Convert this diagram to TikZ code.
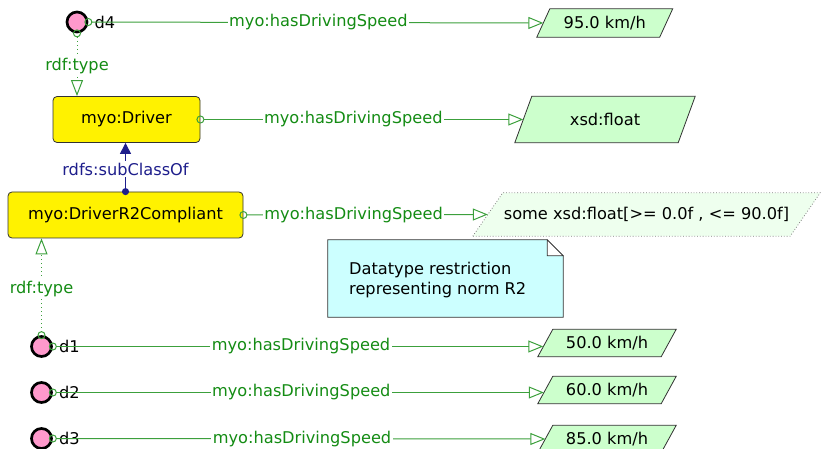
\documentclass[tikz,border=0pt]{standalone}
\usepackage{fontspec}
\setmainfont{DejaVu Sans}
\usetikzlibrary{arrows.meta,backgrounds}
\definecolor{lgreen}{RGB}{60,160,60}
\definecolor{tgreen}{RGB}{20,140,20}
\definecolor{navyc}{RGB}{30,30,140}
\definecolor{pinkf}{RGB}{255,153,204}
\definecolor{parf}{RGB}{204,255,204}
\definecolor{resf}{RGB}{238,255,238}
\definecolor{notef}{RGB}{204,255,255}
\definecolor{bord}{RGB}{50,50,50}
\newcommand\myparallelo[3]{%
  \path[#3] ([xshift=-#2]#1.south west) -- ([xshift=#2]#1.north west) -- ([xshift=#2]#1.north east) -- ([xshift=-#2]#1.south east) -- cycle;}
\begin{document}
\begin{tikzpicture}[x=1pt,y=-1pt, font=\fontsize{16.2}{20}\selectfont,
  ind/.style={circle, draw=black, line width=2.7pt, fill=pinkf, minimum size=20pt, inner sep=0pt},
  ilab/.style={anchor=west, inner sep=0pt},
  cls/.style={rectangle, rounded corners=4pt, draw=bord, line width=0.8pt, fill=yellow, inner sep=0pt},
  valbox/.style={rectangle, inner sep=0pt},
  prop/.style={draw=lgreen, line width=1pt, {Circle[open,length=8pt,width=8pt]}-{Triangle[open,length=15pt,width=12pt]}},
  typ/.style={draw=lgreen, color=lgreen, line width=1pt, dash pattern=on 1pt off 3pt, {Circle[open,length=8pt,width=8pt]}-{Triangle[open,length=16pt,width=12pt]}},
  sub/.style={draw=navyc, line width=1pt, {Circle[length=7pt,width=7pt]}-{Triangle[length=11pt,width=11pt]}},
  plab/.style={text=tgreen, fill=white, inner sep=1.5pt},
  slab/.style={text=navyc, fill=white, inner sep=1.5pt},
  parbox/.style={fill=parf, draw=bord, line width=0.8pt},
  resbox/.style={fill=resf, draw=gray, line width=0.8pt, dash pattern=on 0.8pt off 2pt}]
\useasboundingbox (0,0) rectangle (822,449);

% individuals
\node[ind] (d4) at (77,22) {};
\node[ilab] (d4t) at ([xshift=6pt]d4.east) {d4};
\node[ind] (d1) at (41.5,346.5) {};
\node[ilab] (d1t) at ([xshift=6pt]d1.east) {d1};
\node[ind] (d2) at (41.5,392.5) {};
\node[ilab] (d2t) at ([xshift=6pt]d2.east) {d2};
\node[ind] (d3) at (41.5,438.5) {};
\node[ilab] (d3t) at ([xshift=6pt]d3.east) {d3};

% classes
\node[cls, minimum width=147pt, minimum height=46pt] (drv) at (126.5,119.5) {myo:Driver};
\node[cls, minimum width=235pt, minimum height=46pt] (r2) at (125.5,215) {myo:DriverR2Compliant};

% values
\node[valbox, minimum width=122.5pt, minimum height=28pt] (v95) at (604.75,23) {95.0 km/h};
\node[valbox, minimum width=163pt, minimum height=46pt] (xsd) at (605,119.5) {xsd:float};
\node[valbox, minimum width=317pt, minimum height=43pt] (res) at (646.5,214.5) {some xsd:float[>= 0.0f , <= 90.0f]};
\node[valbox, minimum width=123pt, minimum height=27pt] (v50) at (607,343) {50.0 km/h};
\node[valbox, minimum width=123pt, minimum height=27pt] (v60) at (607,390) {60.0 km/h};
\node[valbox, minimum width=123pt, minimum height=27pt] (v85) at (607,439) {85.0 km/h};

\begin{scope}[on background layer]
  \myparallelo{v95}{6.5pt}{parbox}
  \myparallelo{xsd}{8.5pt}{parbox}
  \myparallelo{res}{15pt}{resbox}
  \myparallelo{v50}{7.5pt}{parbox}
  \myparallelo{v60}{7.5pt}{parbox}
  \myparallelo{v85}{7.5pt}{parbox}
\end{scope}

% note
\node[rectangle, minimum width=235pt, minimum height=77pt, inner sep=0pt] (note) at (445.5,278.5) {};
\begin{scope}[on background layer]
  \path[fill=notef, draw=bord, line width=0.8pt] (note.south west) -- (note.north west) -- ([xshift=-16pt]note.north east) -- ([yshift=-16pt]note.north east) -- (note.south east) -- cycle;
  \path[fill=white, draw=bord, line width=0.6pt] ([xshift=-16pt]note.north east) -- ([xshift=-16pt,yshift=-16pt]note.north east) -- ([yshift=-16pt]note.north east) -- cycle;
\end{scope}
\node[anchor=west, align=left, inner sep=0pt] (notetxt) at (349,280) {Datatype restriction\\representing norm R2};

% property connectors
\draw[prop] ([xshift=-4pt]d4.east) -- node[plab, pos=0.51] {myo:hasDrivingSpeed} (v95.west);
\draw[prop] ([xshift=-4pt]drv.east) -- node[plab, pos=0.48] {myo:hasDrivingSpeed} (xsd.west);
\draw[prop] ([xshift=-4pt]r2.east) -- node[plab, pos=0.46] {myo:hasDrivingSpeed} (res.west);
\draw[prop] ([xshift=-4pt]d1.east) -- node[plab, pos=0.51] {myo:hasDrivingSpeed} ([xshift=-2pt,yshift=-3.5pt]v50.west);
\draw[prop] ([xshift=-4pt]d2.east) -- node[plab, pos=0.51] {myo:hasDrivingSpeed} ([xshift=-1.5pt,yshift=-2.5pt]v60.west);
\draw[prop] ([xshift=-4pt]d3.east) -- node[plab, pos=0.51] {myo:hasDrivingSpeed} (v85.west);

% rdf:type
\draw[typ] ([yshift=4pt]d4.south) -- node[plab, pos=0.55] {rdf:type} (d4 |- drv.north);
\draw[typ] ([yshift=-4pt]d1.north) -- node[plab] {rdf:type} (d1 |- r2.south);

% subclass
\draw[sub] ([yshift=-3.5pt]r2.north) -- node[slab] {rdfs:subClassOf} (r2.north |- drv.south);
\end{tikzpicture}
\end{document}
